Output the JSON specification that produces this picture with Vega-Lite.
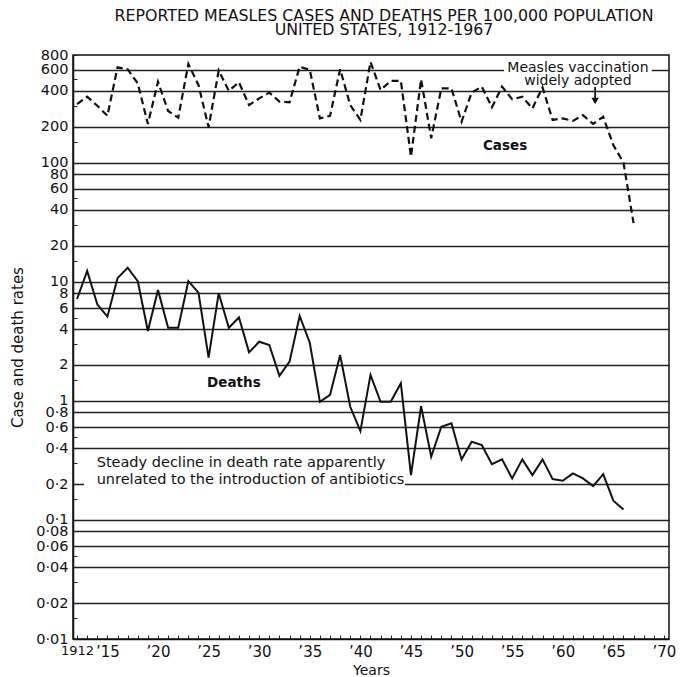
{
  "$schema": "https://vega.github.io/schema/vega-lite/v6.json",
  "width": 596,
  "height": 584,
  "autosize": {"type": "none"},
  "padding": {"left": 73, "top": 55, "right": 19, "bottom": 38},
  "background": "white",
  "config": {
    "view": {"stroke": "#111", "strokeWidth": 1.5},
    "font": "DejaVu Sans",
    "text": {"font": "DejaVu Sans", "color": "#111"},
    "axis": {"labelOverlap": false}
  },
  "title": {
    "text": ["REPORTED MEASLES CASES AND DEATHS PER 100,000 POPULATION", "UNITED STATES, 1912-1967"],
    "fontSize": 15.8,
    "fontWeight": "normal",
    "font": "DejaVu Sans",
    "color": "#111",
    "lineHeight": 14,
    "baseline": "bottom",
    "offset": 19,
    "dx": 13,
    "dy": 26
  },
  "datasets": {
    "measles": [
      {"year": 1912, "series": "Cases", "value": 310},
      {"year": 1913, "series": "Cases", "value": 357},
      {"year": 1914, "series": "Cases", "value": 300},
      {"year": 1915, "series": "Cases", "value": 247},
      {"year": 1916, "series": "Cases", "value": 630},
      {"year": 1917, "series": "Cases", "value": 608},
      {"year": 1918, "series": "Cases", "value": 462},
      {"year": 1919, "series": "Cases", "value": 211},
      {"year": 1920, "series": "Cases", "value": 477},
      {"year": 1921, "series": "Cases", "value": 271},
      {"year": 1922, "series": "Cases", "value": 238},
      {"year": 1923, "series": "Cases", "value": 673},
      {"year": 1924, "series": "Cases", "value": 448},
      {"year": 1925, "series": "Cases", "value": 198},
      {"year": 1926, "series": "Cases", "value": 593},
      {"year": 1927, "series": "Cases", "value": 400},
      {"year": 1928, "series": "Cases", "value": 472},
      {"year": 1929, "series": "Cases", "value": 304},
      {"year": 1930, "series": "Cases", "value": 346},
      {"year": 1931, "series": "Cases", "value": 387},
      {"year": 1932, "series": "Cases", "value": 325},
      {"year": 1933, "series": "Cases", "value": 321},
      {"year": 1934, "series": "Cases", "value": 638},
      {"year": 1935, "series": "Cases", "value": 600},
      {"year": 1936, "series": "Cases", "value": 235},
      {"year": 1937, "series": "Cases", "value": 247},
      {"year": 1938, "series": "Cases", "value": 608},
      {"year": 1939, "series": "Cases", "value": 304},
      {"year": 1940, "series": "Cases", "value": 228},
      {"year": 1941, "series": "Cases", "value": 699},
      {"year": 1942, "series": "Cases", "value": 406},
      {"year": 1943, "series": "Cases", "value": 486},
      {"year": 1944, "series": "Cases", "value": 486},
      {"year": 1945, "series": "Cases", "value": 112},
      {"year": 1946, "series": "Cases", "value": 500},
      {"year": 1947, "series": "Cases", "value": 160},
      {"year": 1948, "series": "Cases", "value": 420},
      {"year": 1949, "series": "Cases", "value": 420},
      {"year": 1950, "series": "Cases", "value": 220},
      {"year": 1951, "series": "Cases", "value": 387},
      {"year": 1952, "series": "Cases", "value": 434},
      {"year": 1953, "series": "Cases", "value": 291},
      {"year": 1954, "series": "Cases", "value": 434},
      {"year": 1955, "series": "Cases", "value": 340},
      {"year": 1956, "series": "Cases", "value": 357},
      {"year": 1957, "series": "Cases", "value": 285},
      {"year": 1958, "series": "Cases", "value": 428},
      {"year": 1959, "series": "Cases", "value": 228},
      {"year": 1960, "series": "Cases", "value": 235},
      {"year": 1961, "series": "Cases", "value": 224},
      {"year": 1962, "series": "Cases", "value": 250},
      {"year": 1963, "series": "Cases", "value": 211},
      {"year": 1964, "series": "Cases", "value": 242},
      {"year": 1965, "series": "Cases", "value": 140},
      {"year": 1966, "series": "Cases", "value": 100},
      {"year": 1967, "series": "Cases", "value": 31},
      {"year": 1912, "series": "Deaths", "value": 7.15},
      {"year": 1913, "series": "Deaths", "value": 12.3},
      {"year": 1914, "series": "Deaths", "value": 6.45},
      {"year": 1915, "series": "Deaths", "value": 5.08},
      {"year": 1916, "series": "Deaths", "value": 10.7},
      {"year": 1917, "series": "Deaths", "value": 13.1},
      {"year": 1918, "series": "Deaths", "value": 10.1},
      {"year": 1919, "series": "Deaths", "value": 3.85},
      {"year": 1920, "series": "Deaths", "value": 8.5},
      {"year": 1921, "series": "Deaths", "value": 4.1},
      {"year": 1922, "series": "Deaths", "value": 4.1},
      {"year": 1923, "series": "Deaths", "value": 10.1},
      {"year": 1924, "series": "Deaths", "value": 8.1},
      {"year": 1925, "series": "Deaths", "value": 2.3},
      {"year": 1926, "series": "Deaths", "value": 8.0},
      {"year": 1927, "series": "Deaths", "value": 4.1},
      {"year": 1928, "series": "Deaths", "value": 5.0},
      {"year": 1929, "series": "Deaths", "value": 2.55},
      {"year": 1930, "series": "Deaths", "value": 3.13},
      {"year": 1931, "series": "Deaths", "value": 2.94},
      {"year": 1932, "series": "Deaths", "value": 1.62},
      {"year": 1933, "series": "Deaths", "value": 2.13},
      {"year": 1934, "series": "Deaths", "value": 5.15},
      {"year": 1935, "series": "Deaths", "value": 3.07},
      {"year": 1936, "series": "Deaths", "value": 0.98},
      {"year": 1937, "series": "Deaths", "value": 1.12},
      {"year": 1938, "series": "Deaths", "value": 2.42},
      {"year": 1939, "series": "Deaths", "value": 0.89},
      {"year": 1940, "series": "Deaths", "value": 0.557},
      {"year": 1941, "series": "Deaths", "value": 1.65},
      {"year": 1942, "series": "Deaths", "value": 0.98},
      {"year": 1943, "series": "Deaths", "value": 0.98},
      {"year": 1944, "series": "Deaths", "value": 1.4},
      {"year": 1945, "series": "Deaths", "value": 0.238},
      {"year": 1946, "series": "Deaths", "value": 0.9},
      {"year": 1947, "series": "Deaths", "value": 0.339},
      {"year": 1948, "series": "Deaths", "value": 0.606},
      {"year": 1949, "series": "Deaths", "value": 0.647},
      {"year": 1950, "series": "Deaths", "value": 0.322},
      {"year": 1951, "series": "Deaths", "value": 0.453},
      {"year": 1952, "series": "Deaths", "value": 0.425},
      {"year": 1953, "series": "Deaths", "value": 0.294},
      {"year": 1954, "series": "Deaths", "value": 0.322},
      {"year": 1955, "series": "Deaths", "value": 0.223},
      {"year": 1956, "series": "Deaths", "value": 0.322},
      {"year": 1957, "series": "Deaths", "value": 0.238},
      {"year": 1958, "series": "Deaths", "value": 0.322},
      {"year": 1959, "series": "Deaths", "value": 0.22},
      {"year": 1960, "series": "Deaths", "value": 0.213},
      {"year": 1961, "series": "Deaths", "value": 0.246},
      {"year": 1962, "series": "Deaths", "value": 0.223},
      {"year": 1963, "series": "Deaths", "value": 0.192},
      {"year": 1964, "series": "Deaths", "value": 0.242},
      {"year": 1965, "series": "Deaths", "value": 0.145},
      {"year": 1966, "series": "Deaths", "value": 0.1225}
    ],
    "masks": [
      {"year": 1954.2, "year2": 1968.8, "value": 440, "value2": 726},
      {"year": 1912.7, "year2": 1944.4, "value": 0.178, "value2": 0.357}
    ],
    "notes": [
      {"kind": "plain", "year": 1961.5, "value": 623, "label": "Measles vaccination\nwidely adopted", "align": "center"},
      {"kind": "plain", "year": 1913.94, "value": 0.3, "label": "Steady decline in death rate apparently\nunrelated to the introduction of antibiotics", "align": "left"},
      {"kind": "series", "year": 1954.3, "value": 138, "label": "Cases", "align": "center"},
      {"kind": "series", "year": 1927.5, "value": 1.41, "label": "Deaths", "align": "center"}
    ],
    "arrow": [
      {"year": 1963.2, "value": 431, "value2": 345, "head": 329}
    ]
  },
  "resolve": {"axis": {"x": "independent", "y": "independent"}},
  "layer": [
    {
      "data": {"name": "measles"},
      "mark": {"type": "point", "opacity": 0},
      "encoding": {
        "x": {
          "field": "year", "type": "quantitative",
          "scale": {"domain": [1911.6, 1970.5], "nice": false, "zero": false},
          "axis": {
            "orient": "bottom",
            "values": [1912,1913,1914,1915,1916,1917,1918,1919,1920,1921,1922,1923,1924,1925,1926,1927,1928,1929,1930,1931,1932,1933,1934,1935,1936,1937,1938,1939,1940,1941,1942,1943,1944,1945,1946,1947,1948,1949,1950,1951,1952,1953,1954,1955,1956,1957,1958,1959,1960,1961,1962,1963,1964,1965,1966,1967,1968,1969,1970],
            "labels": false,
            "tickSize": -4, "tickColor": "#222", "tickWidth": 1,
            "domainColor": "#111", "domainWidth": 1.5, "grid": false,
            "title": null
          }
        },
        "y": {
          "field": "value", "type": "quantitative",
          "scale": {"type": "log", "domain": [0.01, 800], "nice": false},
          "axis": {
            "orient": "right",
            "values": [600, 400, 200, 100, 80, 60, 40, 20, 10, 8, 6, 4, 2, 1, 0.8, 0.6, 0.4, 0.2, 0.1, 0.08, 0.06, 0.04, 0.02],
            "grid": true, "gridColor": "#222", "gridWidth": 1.3,
            "labels": false, "ticks": false, "domain": false, "title": null
          }
        }
      }
    },
    {
      "layer": [
        {
          "data": {"name": "masks"},
          "mark": {"type": "rect", "color": "white"},
          "encoding": {
            "x": {"field": "year", "type": "quantitative",
              "axis": {
                "orient": "bottom",
                "values": [1912, 1915, 1920, 1925, 1930, 1935, 1940, 1945, 1950, 1955, 1960, 1965, 1970],
                "labelExpr": "datum.value == 1912 ? '1912' : '’' + substring(toString(datum.value), 2, 4)",
                "ticks": false,
                "labelFontSize": {"condition": {"test": "datum.value == 1912", "value": 13}, "value": 15},
                "labelColor": "#111", "labelPadding": 5, "labelFont": "DejaVu Sans",
                "labelOverlap": false, "labelFlush": false, "labelBound": false,
                "domain": false, "grid": false,
                "title": "Years", "titleFontSize": 14, "titleFontWeight": "normal", "titleColor": "#111", "titleFont": "DejaVu Sans",
                "titleY": 31, "titleBaseline": "middle"
              }
            },
            "x2": {"field": "year2"},
            "y": {"field": "value", "type": "quantitative",
              "axis": {
                "orient": "left",
                "values": [800, 600, 500, 400, 300, 200, 150, 100, 80, 60, 50, 40, 30, 20, 15, 10, 8, 6, 5, 4, 3, 2, 1.5, 1, 0.8, 0.6, 0.5, 0.4, 0.3, 0.2, 0.15, 0.1, 0.08, 0.06, 0.05, 0.04, 0.03, 0.02, 0.015, 0.01],
                "labelExpr": "indexof([800,600,400,200,100,80,60,40,20,10,8,6,4,2,1,0.8,0.6,0.4,0.2,0.1,0.08,0.06,0.04,0.02,0.01], datum.value) < 0 ? '' : (datum.value >= 1 ? format(datum.value, 'd') : replace(format(datum.value, '.2~f'), '.', '·'))",
                "tickSize": -4, "tickColor": "#222", "tickWidth": 1,
                "labelFontSize": 14.5, "labelColor": "#111", "labelPadding": 9, "labelFont": "DejaVu Sans",
                "labelOverlap": false, "labelFlush": false, "labelBaseline": "middle",
                "domainColor": "#111", "domainWidth": 1.5, "grid": false,
                "title": "Case and death rates", "titleFontSize": 15, "titleFontWeight": "normal", "titleColor": "#111", "titleFont": "DejaVu Sans",
                "titleX": -56, "titleY": 292, "titleAngle": 270, "titleAlign": "center", "titleBaseline": "middle"
              }
            },
            "y2": {"field": "value2"}
          }
        },
        {
          "data": {"name": "measles"},
          "transform": [{"filter": "datum.series == 'Cases'"}],
          "mark": {"type": "line", "color": "#111", "strokeWidth": 2.2, "strokeDash": [7, 4]},
          "encoding": {
            "x": {"field": "year", "type": "quantitative"},
            "y": {"field": "value", "type": "quantitative"}
          }
        },
        {
          "data": {"name": "measles"},
          "transform": [{"filter": "datum.series == 'Deaths'"}],
          "mark": {"type": "line", "color": "#111", "strokeWidth": 2},
          "encoding": {
            "x": {"field": "year", "type": "quantitative"},
            "y": {"field": "value", "type": "quantitative"}
          }
        },
        {
          "data": {"name": "arrow"},
          "mark": {"type": "rule", "color": "#111", "strokeWidth": 1.8},
          "encoding": {
            "x": {"field": "year", "type": "quantitative"},
            "y": {"field": "value", "type": "quantitative"},
            "y2": {"field": "value2"}
          }
        },
        {
          "data": {"name": "arrow"},
          "mark": {"type": "point", "shape": "triangle-down", "filled": true, "color": "#111", "size": 55, "opacity": 1},
          "encoding": {
            "x": {"field": "year", "type": "quantitative"},
            "y": {"field": "head", "type": "quantitative"}
          }
        },
        {
          "data": {"name": "notes"},
          "transform": [{"filter": "datum.kind == 'plain' && datum.align == 'center'"}],
          "mark": {"type": "text", "fontSize": 14, "align": "center", "baseline": "middle", "lineBreak": "\n", "lineHeight": 13, "color": "#111"},
          "encoding": {
            "x": {"field": "year", "type": "quantitative"},
            "y": {"field": "value", "type": "quantitative"},
            "text": {"field": "label"}
          }
        },
        {
          "data": {"name": "notes"},
          "transform": [{"filter": "datum.kind == 'plain' && datum.align == 'left'"}],
          "mark": {"type": "text", "fontSize": 14.5, "align": "left", "baseline": "middle", "lineBreak": "\n", "lineHeight": 17, "color": "#111"},
          "encoding": {
            "x": {"field": "year", "type": "quantitative"},
            "y": {"field": "value", "type": "quantitative"},
            "text": {"field": "label"}
          }
        },
        {
          "data": {"name": "notes"},
          "transform": [{"filter": "datum.kind == 'series'"}],
          "mark": {"type": "text", "fontSize": 13.5, "fontWeight": "bold", "align": "center", "baseline": "middle", "color": "#111"},
          "encoding": {
            "x": {"field": "year", "type": "quantitative"},
            "y": {"field": "value", "type": "quantitative"},
            "text": {"field": "label"}
          }
        }
      ]
    }
  ]
}
